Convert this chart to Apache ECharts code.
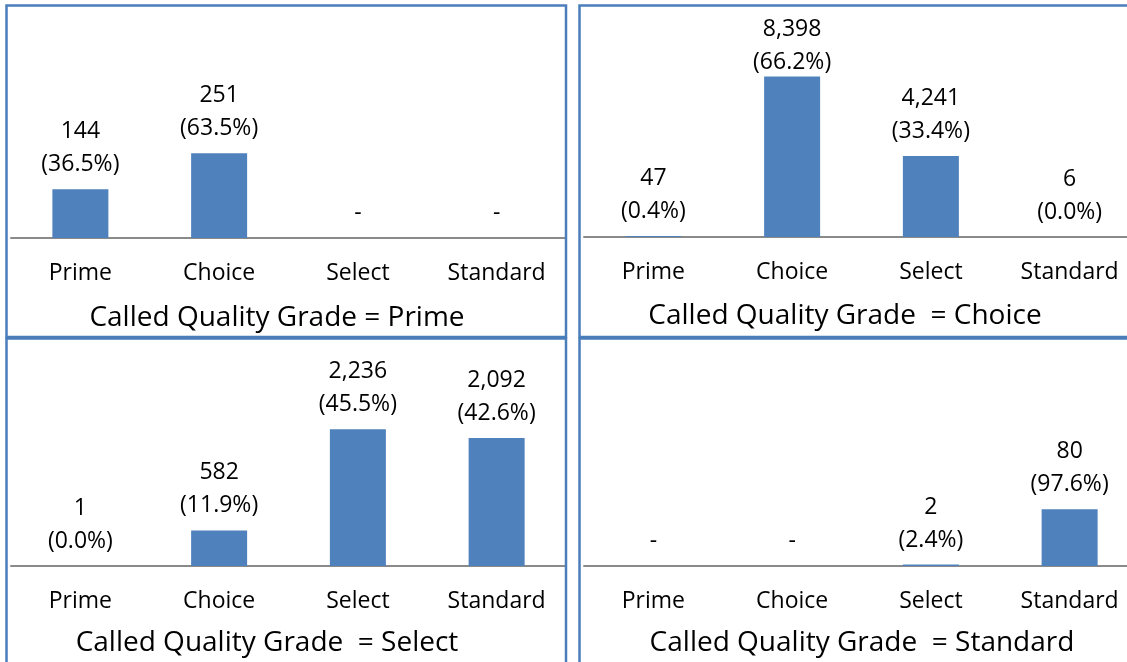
<!DOCTYPE html>
<html><head><meta charset="utf-8">
<script src="https://cdn.jsdelivr.net/npm/echarts@6/dist/echarts.min.js"></script>
<style>html,body{margin:0;padding:0;background:#fff}#c{width:1127px;height:662px}</style>
</head><body><div id="c"></div>
<script>
// ---- data ----
const categories = ['Prime', 'Choice', 'Select', 'Standard'];
const panelTitles = [
  'Called Quality Grade = Prime',
  'Called Quality Grade  = Choice',
  'Called Quality Grade  = Select',
  'Called Quality Grade  = Standard'
];
const primeCounts = [144, 251, 0, 0];
const choiceCounts = [47, 8398, 4241, 6];
const selectCounts = [1, 582, 2236, 2092];
const standardCounts = [0, 0, 2, 80];
const axisMax = [500, 9000, 2500, 100];

// ---- layout / style ----
const FONT = '"Open Sans", sans-serif';
const BAR = '#4f81bd';
const BORDER = '#4a7ebb';
const panels = [
  { left: 11, width: 555, top: 69, height: 169, tx: 277, ty: 318, box: [6.5, 5.5, 559.5, 331.5] },
  { left: 584, width: 555, top: 65, height: 172, tx: 845, ty: 316, box: [579.5, 5.5, 580, 331.5] },
  { left: 11, width: 555, top: 413, height: 153, tx: 267, ty: 643, box: [6.5, 338.5, 559.5, 340] },
  { left: 584, width: 555, top: 495, height: 71, tx: 862, ty: 643, box: [579.5, 338.5, 580, 340] }
];
// label distance overrides (label clamped at top of panel 2, Choice bar)
const labelDist = { '1-1': -2 };
const allCounts = [primeCounts, choiceCounts, selectCounts, standardCounts];

function fmt(v) { return v.toLocaleString('en-US'); }

const grid = [], xAxis = [], yAxis = [], series = [], title = [], graphic = [];
allCounts.forEach((vals, i) => {
  const p = panels[i];
  const total = vals.reduce((a, b) => a + b, 0);
  grid.push({ left: p.left, top: p.top, width: p.width, height: p.height, outerBoundsMode: 'none', containLabel: false });
  xAxis.push({
    type: 'category', gridIndex: i, data: categories,
    axisLine: { lineStyle: { color: '#8a8a8a', width: 2 } },
    axisTick: { show: false },
    axisLabel: { color: '#000', fontFamily: FONT, fontSize: 23, margin: 24, interval: 0 }
  });
  yAxis.push({ type: 'value', gridIndex: i, min: 0, max: axisMax[i], show: false, splitLine: { show: false } });
  series.push({
    type: 'bar', xAxisIndex: i, yAxisIndex: i, barWidth: 56,
    itemStyle: { color: BAR },
    data: vals.map((v, j) => {
      const d = { value: v };
      if (labelDist[i + '-' + j] !== undefined) d.label = { distance: labelDist[i + '-' + j] };
      return d;
    }),
    label: {
      show: true, position: 'top', distance: 8,
      color: '#000', fontFamily: FONT, fontSize: 23, lineHeight: 33, align: 'center',
      formatter: (pr) => pr.value === 0 ? '-' :
        fmt(pr.value) + '\n(' + (pr.value / total * 100).toFixed(1) + '%)'
    }
  });
  title.push({
    text: panelTitles[i], left: p.tx, top: p.ty, padding: 0,
    textAlign: 'center', textVerticalAlign: 'middle',
    textStyle: { color: '#000', fontFamily: FONT, fontSize: 28, fontWeight: 'normal' }
  });
  graphic.push({
    type: 'rect', silent: true, z: 100,
    shape: { x: p.box[0], y: p.box[1], width: p.box[2], height: p.box[3] },
    style: { fill: 'none', stroke: BORDER, lineWidth: 2.5 }
  });
});

const chart = echarts.init(document.getElementById('c'), null, { renderer: 'canvas' });
chart.setOption({
  animation: false,
  backgroundColor: '#fff',
  grid, xAxis, yAxis, series, title, graphic
});
</script>
</body></html>
